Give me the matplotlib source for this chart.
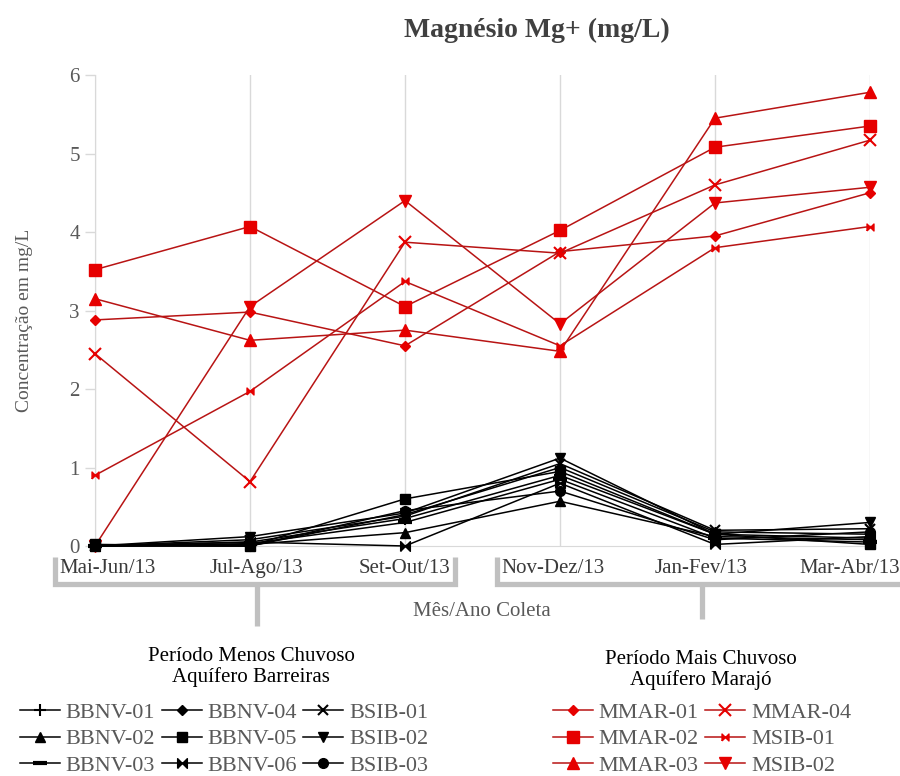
import matplotlib
matplotlib.use("Agg")
import matplotlib.pyplot as plt
from matplotlib.lines import Line2D
from matplotlib.transforms import blended_transform_factory

plt.rcParams["font.family"] = ["Liberation Serif", "DejaVu Serif"]

W, H = 900, 776

periods = ["Mai-Jun/13", "Jul-Ago/13", "Set-Out/13",
           "Nov-Dez/13", "Jan-Fev/13", "Mar-Abr/13"]

# Aquifero Barreiras - periodo menos chuvoso (black)
bbnv_01 = [0.00, 0.05, 0.35, 0.90, 0.15, 0.10]
bbnv_02 = [0.00, 0.02, 0.17, 0.57, 0.12, 0.08]
bbnv_03 = [0.00, 0.03, 0.30, 0.85, 0.10, 0.05]
bbnv_04 = [0.00, 0.00, 0.40, 1.00, 0.18, 0.15]
bbnv_05 = [0.02, 0.00, 0.60, 0.95, 0.15, 0.02]
bbnv_06 = [0.00, 0.05, 0.00, 0.80, 0.02, 0.12]
bsib_01 = [0.00, 0.08, 0.38, 1.05, 0.20, 0.22]
bsib_02 = [0.00, 0.12, 0.42, 1.12, 0.15, 0.30]
bsib_03 = [0.00, 0.00, 0.45, 0.70, 0.08, 0.18]

# Aquifero Marajo - periodo mais chuvoso (red)
mmar_01 = [2.88, 2.98, 2.55, 3.75, 3.95, 4.50]
mmar_02 = [3.52, 4.07, 3.05, 4.02, 5.08, 5.35]
mmar_03 = [3.15, 2.62, 2.75, 2.48, 5.45, 5.78]
mmar_04 = [2.45, 0.82, 3.87, 3.73, 4.60, 5.17]
msib_01 = [0.90, 1.97, 3.37, 2.55, 3.80, 4.07]
msib_02 = [0.00, 3.05, 4.40, 2.83, 4.37, 4.57]

BOWTIE = [(-1, -1), (-1, 1), (0, 0), (1, 1), (1, -1), (0, 0), (-1, -1)]

black_series = [
    ("BBNV-01", bbnv_01, "+", 9),
    ("BBNV-02", bbnv_02, "^", 7),
    ("BBNV-03", bbnv_03, "_", 10),
    ("BBNV-04", bbnv_04, "D", 5.5),
    ("BBNV-05", bbnv_05, "s", 7),
    ("BBNV-06", bbnv_06, BOWTIE, 7),
    ("BSIB-01", bsib_01, "x", 7),
    ("BSIB-02", bsib_02, "v", 7),
    ("BSIB-03", bsib_03, "o", 7),
]
red_series = [
    ("MMAR-01", mmar_01, "D", 5.5),
    ("MMAR-02", mmar_02, "s", 8),
    ("MMAR-03", mmar_03, "^", 8),
    ("MMAR-04", mmar_04, "x", 8),
    ("MSIB-01", msib_01, BOWTIE, 5),
    ("MSIB-02", msib_02, "v", 8),
]

RED_LINE = "#b81414"
RED_MARK = "#e60000"
GRID = "#d9d9d9"
BRACKET = "#c0c0c0"


def px(x, y):
    return x / W, 1 - y / H


fig = plt.figure(figsize=(W / 100, H / 100), dpi=100)
ax = fig.add_axes([95 / W, 1 - 546 / H, (870 - 95) / W, (546 - 75) / H])

x = list(range(len(periods)))

red_handles = []
for name, vals, mk, ms in red_series:
    h, = ax.plot(x, vals, color=RED_LINE, lw=1.1, marker=mk, ms=ms,
                 mfc=RED_MARK, mec=RED_MARK, mew=1.5 if mk == "x" else 1,
                 clip_on=False, zorder=3, label=name)
    red_handles.append(h)

black_handles = []
for name, vals, mk, ms in black_series:
    mew = 3 if mk == "_" else (1.5 if mk in ("+", "x") else 1)
    h, = ax.plot(x, vals, color="black", lw=1.1, marker=mk, ms=ms,
                 mfc="black", mec="black", mew=mew,
                 clip_on=False, zorder=4, label=name)
    black_handles.append(h)

ax.set_xlim(0, len(periods) - 1)
ax.set_ylim(0, 6)
ax.set_yticks(range(7))
ax.tick_params(axis="y", colors=GRID, labelcolor="#595959", labelsize=15,
               length=7, width=1, pad=4)
ax.set_xticks(x)
ax.set_xticklabels([])
ax.tick_params(axis="x", length=0)
ax.grid(axis="x", color=GRID, lw=1, zorder=0)
for s in ("top", "right"):
    ax.spines[s].set_visible(False)
for s in ("left", "bottom"):
    ax.spines[s].set_color(GRID)

# category labels are spread slightly wider than the data positions
trans = blended_transform_factory(ax.transData, ax.transAxes)
for i, lab in enumerate(periods):
    ax.text((13 + i * 148.4) / 155, -0.048, lab, transform=trans,
            ha="center", va="center", fontsize=15, color="#3a3a3a")

ax.set_ylabel("Concentração em mg/L", fontsize=14, color="#595959")
ax.yaxis.set_label_coords(-0.08, 0.48)

fig.text(*px(537, 30), "Magnésio Mg+ (mg/L)", ha="center", va="center",
         fontsize=20, fontweight="bold", color="#404040")
fig.text(*px(482, 612), "Mês/Ano Coleta", ha="center", va="center",
         fontsize=15, color="#595959")

# period brackets under the category labels
brackets = [
    [(55, 557), (55, 584), (455, 584), (455, 557)],
    [(257, 584), (257, 626)],
    [(497, 557), (497, 584), (900, 584)],
    [(702, 584), (702, 619)],
]
for pts in brackets:
    xs = [p[0] / W for p in pts]
    ys = [1 - p[1] / H for p in pts]
    fig.add_artist(Line2D(xs, ys, color=BRACKET, lw=3.8,
                          solid_joinstyle="miter", solid_capstyle="butt"))

# legends
fig.text(*px(251, 667), "Período Menos Chuvoso\nAquífero Barreiras",
         ha="center", va="center", fontsize=15, linespacing=1.1)
fig.text(*px(701, 670), "Período Mais Chuvoso\nAquífero Marajó",
         ha="center", va="center", fontsize=15, linespacing=1.1)

leg_kw = dict(frameon=False, fontsize=16, labelcolor="#595959",
              borderpad=0, borderaxespad=0, handlelength=1.8,
              handletextpad=0.25, columnspacing=0.3, labelspacing=0.28,
              loc="upper left")
fig.legend(handles=black_handles, ncol=3,
           bbox_to_anchor=px(20, 702), **leg_kw)
fig.legend(handles=red_handles, ncol=2,
           bbox_to_anchor=px(553, 702), **leg_kw)

fig.savefig("out.png", dpi=100)
